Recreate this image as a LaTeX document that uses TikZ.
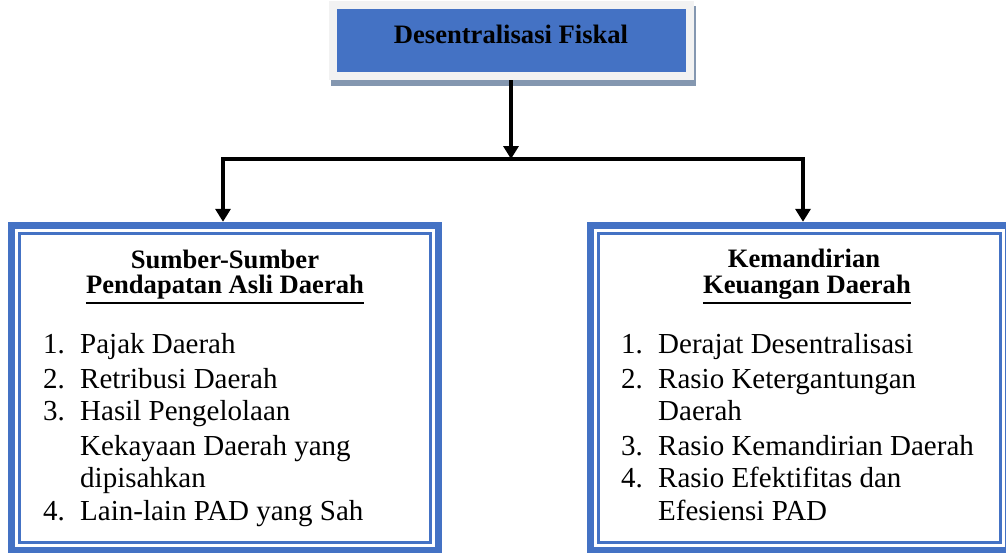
\documentclass[tikz,border=0pt]{standalone}
\usepackage{fontspec}
\setmainfont{Liberation Serif}
\usetikzlibrary{arrows.meta}
\definecolor{boxblue}{HTML}{4472C4}
\definecolor{rimgray}{HTML}{F2F2F2}
\definecolor{shadowgray}{HTML}{8497B0}
\begin{document}
\begin{tikzpicture}[x=1pt,y=-1pt,
  item/.style={inner sep=0pt, anchor=base west, font=\fontsize{29}{33}\selectfont},
  head/.style={inner sep=0pt, anchor=base, font=\fontsize{26.6}{30}\selectfont\bfseries},
  frame/.style={inner sep=0pt, minimum width=#1, minimum height=332pt},
  thickband/.style={boxblue, line width=7pt},
  thinband/.style={boxblue, line width=2.5pt},
  tip/.style={-{Triangle[width=15pt,length=13pt]}},
  conn/.style={line width=4pt, line join=miter}
]
\useasboundingbox (0,0) rectangle (1006,552);
\begin{scope}
\clip (0,0) rectangle (1006,552);
% top box
\fill[shadowgray] (331,6) rectangle (696,86);
\node[draw=rimgray, line width=8pt, fill=boxblue, minimum width=357pt, minimum height=71pt, inner sep=0pt] (top) at (511,40.5) {};
\node[head] (toptxt) at (511,43) {Desentralisasi Fiskal};
% left box
\node[frame=434pt] (lbox) at (225,388) {};
\draw[thickband] ([shift={(3.5,3.5)}]lbox.north west) rectangle ([shift={(-3.5,-3.5)}]lbox.south east);
\draw[thinband] ([shift={(11.5,11.5)}]lbox.north west) rectangle ([shift={(-11.5,-11.5)}]lbox.south east);
% right box
\node[frame=425pt] (rbox) at (799.5,388) {};
\draw[thickband] ([shift={(3.5,3.5)}]rbox.north west) rectangle ([shift={(-3.5,-3.5)}]rbox.south east);
\draw[thinband] ([shift={(11.5,11.5)}]rbox.north west) rectangle ([shift={(-11.5,-11.5)}]rbox.south east);
\end{scope}
% connectors
\coordinate (hl) at (223,159);
\coordinate (hr) at (803,159);
\draw[conn, tip] (top.south) -- (top.south |- hl);
\draw[conn, {Triangle[width=15pt,length=13pt]}-{Triangle[width=15pt,length=13pt]}] (hl |- lbox.north) -- (hl) -- (hr) -- (hr |- rbox.north);
% left texts
\node[head] (lh1) at (225,268) {Sumber-Sumber};
\node[head] (lh2) at (225,293) {Pendapatan Asli Daerah};
\draw[line width=2.8pt] ([yshift=-10pt]lh2.base west) -- ([yshift=-10pt]lh2.base east);
\node[item] (ln1) at (43,353) {1.};
\node[item] (lt1) at (80,353) {Pajak Daerah};
\node[item] (ln2) at (43,388) {2.};
\node[item] (lt2) at (80,388) {Retribusi Daerah};
\node[item] (ln3) at (43,420) {3.};
\node[item] (lt3) at (80,420) {Hasil Pengelolaan};
\node[item] (lt3b) at (80,455) {Kekayaan Daerah yang};
\node[item] (lt3c) at (80,487) {dipisahkan};
\node[item] (ln4) at (43,520) {4.};
\node[item] (lt4) at (80,520) {Lain-lain PAD yang Sah};
% right texts
\node[head] (rh1) at (804,267) {Kemandirian};
\node[head] (rh2) at (807,293) {Keuangan Daerah};
\draw[line width=2.8pt] ([yshift=-10pt]rh2.base west) -- ([yshift=-10pt]rh2.base east);
\node[item] (rn1) at (621,353) {1.};
\node[item] (rt1) at (658,353) {Derajat Desentralisasi};
\node[item] (rn2) at (621,388) {2.};
\node[item] (rt2) at (658,388) {Rasio Ketergantungan};
\node[item] (rt2b) at (658,420) {Daerah};
\node[item] (rn3) at (621,455) {3.};
\node[item] (rt3) at (658,455) {Rasio Kemandirian Daerah};
\node[item] (rn4) at (621,487) {4.};
\node[item] (rt4) at (658,487) {Rasio Efektifitas dan};
\node[item] (rt4b) at (658,520) {Efesiensi PAD};
\end{tikzpicture}
\end{document}
